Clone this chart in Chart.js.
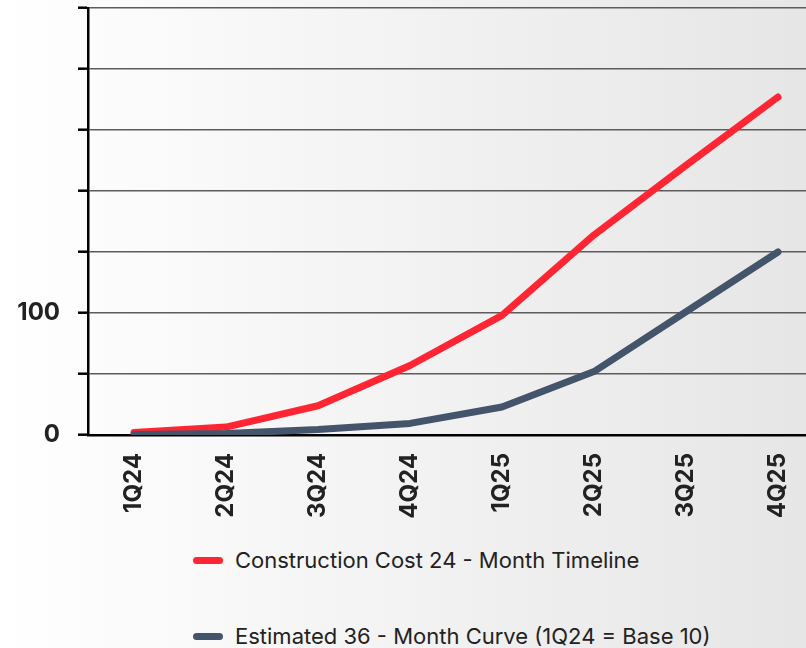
<!DOCTYPE html>
<html>
<head>
<meta charset="utf-8">
<script src="https://cdn.jsdelivr.net/npm/chart.js@4.4.0/dist/chart.umd.min.js"></script>
<style>
  html, body { margin:0; padding:0; }
  body { width:806px; height:648px; overflow:hidden; position:relative;
    background: linear-gradient(to right, #ffffff 0%, #f9f9f9 25%, #f0f0f0 60%, #e6e6e6 100%);
    font-family: Inter, "Noto Sans", sans-serif; }
  #wrap { position:absolute; left:0; top:0; width:824px; height:540px; }
  .leg { position:absolute; left:193px; display:flex; align-items:center; white-space:nowrap;
    font-size:22px; color:#222; }
  .leg .sw { width:30px; height:7px; border-radius:4px; margin-right:12px; }
</style>
</head>
<body>
<div id="wrap"><canvas id="c" width="824" height="540"></canvas></div>
<div id="legend"></div>
<script>
const categories = ['1Q24','2Q24','3Q24','4Q24','1Q25','2Q25','3Q25','4Q25'];
const constructionCost = [2, 6.5, 24, 57, 98, 164, 221, 277];
const estimatedCurve = [0.5, 1.2, 4.5, 9.5, 23, 52, 101, 150];
const labelledTicks = [0, 100];
const seriesNames = ['Construction Cost 24 - Month Timeline', 'Estimated 36 - Month Curve (1Q24 = Base 10)'];
const seriesColors = ['#ff2533', '#44546a'];

const ctx = document.getElementById('c');
const chart = new Chart(ctx, {
  type: 'line',
  data: {
    labels: categories,
    datasets: [
      { label: seriesNames[0], data: constructionCost, borderColor: seriesColors[0], backgroundColor: seriesColors[0],
        borderWidth: 7, pointRadius: 0, borderCapStyle: 'round', borderJoinStyle: 'round', tension: 0, order: 1 },
      { label: seriesNames[1], data: estimatedCurve, borderColor: seriesColors[1], backgroundColor: seriesColors[1],
        borderWidth: 7, pointRadius: 0, borderCapStyle: 'round', borderJoinStyle: 'round', tension: 0, order: 0 }
    ]
  },
  options: {
    responsive: false,
    animation: false,
    devicePixelRatio: 1,
    layout: { padding: { top: 8, right: 0, left: 0, bottom: 0 } },
    plugins: { legend: { display: false }, tooltip: { enabled: false } },
    scales: {
      x: {
        offset: true,
        grid: { display: false },
        border: { display: true, color: '#000', width: 2.5 },
        ticks: { minRotation: 90, maxRotation: 90, padding: 10, color: '#222',
          font: { family: 'Inter', size: 24, weight: 'bold' } },
        afterFit: (s) => { s.height = 105; s.paddingTop = 0; s.paddingBottom = 0; s.paddingLeft = 0; s.paddingRight = 0; }
      },
      y: {
        min: 0, max: 350,
        ticks: { stepSize: 50, padding: 18, color: '#222', autoSkip: false,
          font: { family: 'Inter', size: 24, weight: 'bold' },
          callback: (v) => labelledTicks.includes(v) ? String(v) : '' },
        grid: { color: '#5c5c5c', lineWidth: 1.4, tickLength: 10, tickColor: '#000', tickWidth: 2.5 },
        border: { display: true, color: '#000', width: 2.5 },
        afterFit: (s) => { s.width = 88; s.paddingTop = 0; s.paddingBottom = 0; }
      }
    }
  }
});

const legendEl = document.getElementById('legend');
const tops = [560, 636];
chart.data.datasets.forEach((ds, i) => {
  const row = document.createElement('div');
  row.className = 'leg';
  row.style.top = (tops[i] - 14) + 'px';
  row.style.height = '28px';
  const sw = document.createElement('span');
  sw.className = 'sw';
  sw.style.background = ds.borderColor;
  const tx = document.createElement('span');
  tx.textContent = ds.label;
  row.appendChild(sw); row.appendChild(tx);
  legendEl.appendChild(row);
});
</script>
</body>
</html>
